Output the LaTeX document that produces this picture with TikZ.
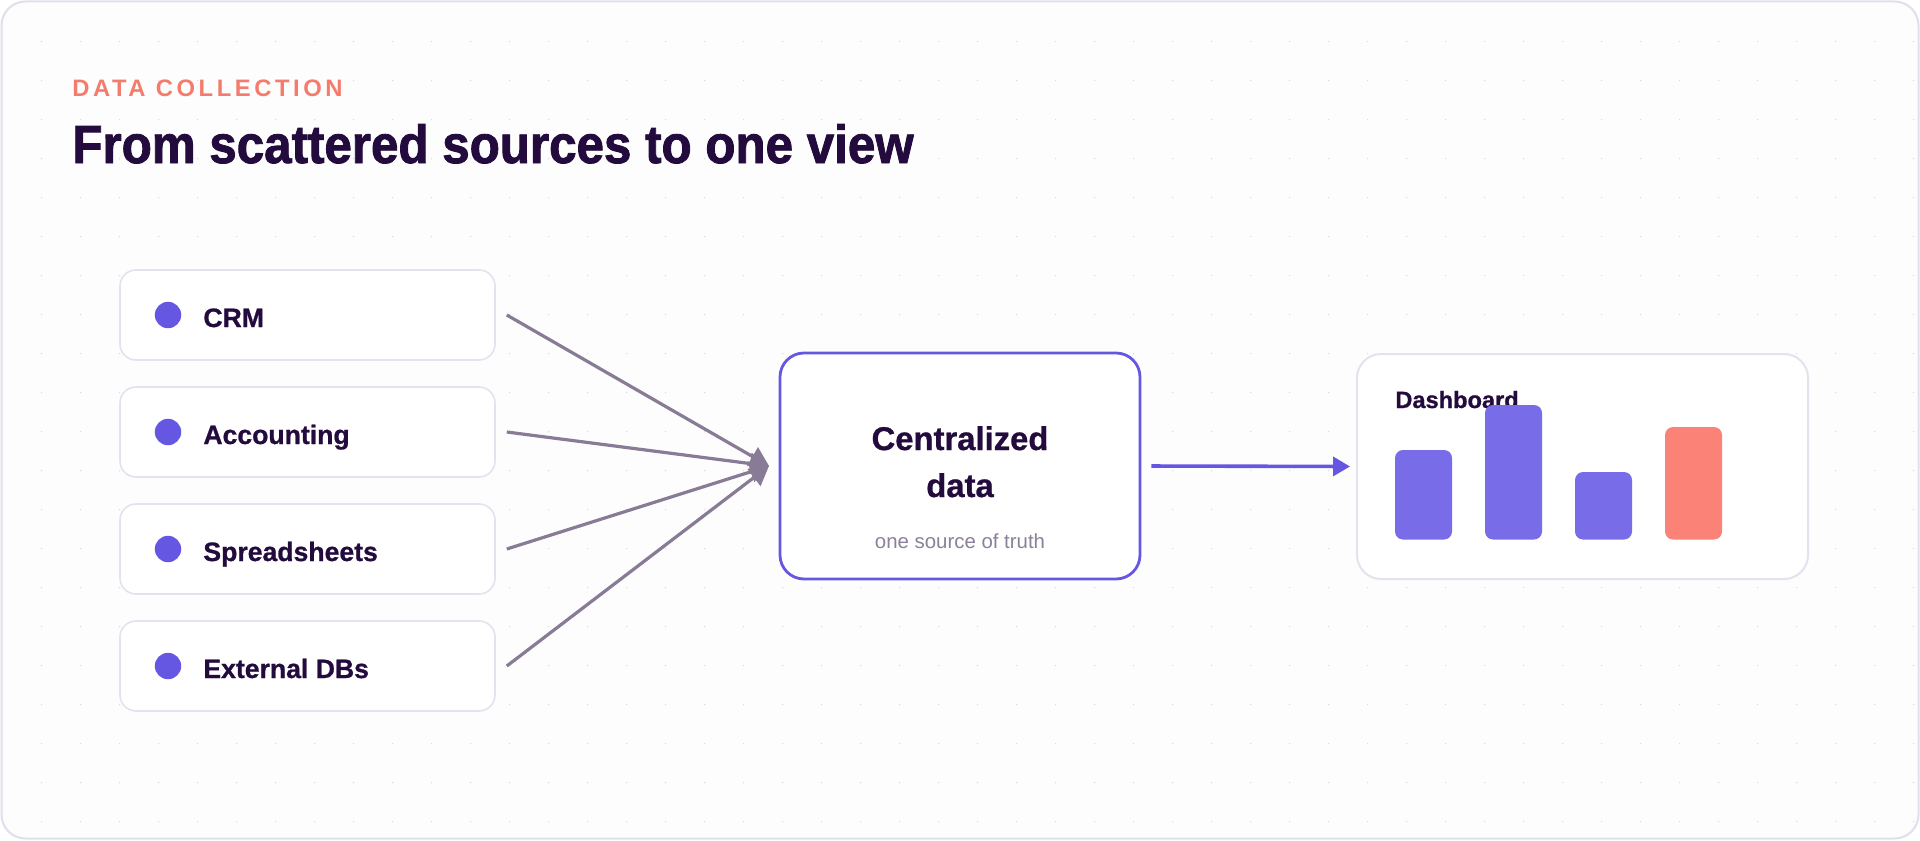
\documentclass[tikz,border=0pt]{standalone}
\usepackage{fontspec}
\setmainfont{Liberation Sans}
\newfontfamily\titlefont[FakeStretch=0.92, BoldFeatures={FakeBold=1.6}]{Liberation Sans}
\newfontfamily\kickerfont[LetterSpace=15]{Liberation Sans}
\newfontfamily\labelfont[BoldFeatures={FakeBold=0.8}]{Liberation Sans}
\usetikzlibrary{arrows.meta}
\definecolor{bgcol}{HTML}{FDFDFE}
\definecolor{framecol}{HTML}{E2DFEC}
\definecolor{dotcol}{HTML}{DCDCE4}
\definecolor{boxborder}{HTML}{E4E2EC}
\definecolor{ink}{HTML}{230B3D}
\definecolor{indigo}{HTML}{6657E2}
\definecolor{barblue}{HTML}{786CE8}
\definecolor{coral}{HTML}{FB8276}
\definecolor{kicker}{HTML}{F47C6C}
\definecolor{conn}{HTML}{877B96}
\definecolor{subtle}{HTML}{8B8198}
\tikzset{
  srcbox/.style={draw=boxborder, fill=white, line width=0.8pt, rounded corners=8pt,
    minimum width=187.5pt, minimum height=45pt, inner sep=0pt},
  srclabel/.style={anchor=base west, inner sep=0pt, text=ink,
    font=\labelfont\fontsize{13.3pt}{16pt}\selectfont\bfseries},
  srcdot/.style={fill=indigo},
  connline/.style={draw=conn, line width=1.6pt,
    -{Triangle[length=9.5pt,width=10.5pt]}},
  hubbox/.style={draw=indigo, fill=white, line width=1.4pt, rounded corners=12pt,
    minimum width=180pt, minimum height=113pt, inner sep=0pt},
  dashbox/.style={draw=boxborder, fill=white, line width=1pt, rounded corners=12pt,
    minimum width=225.5pt, minimum height=112.5pt, inner sep=0pt},
  flowline/.style={draw=indigo, line width=1.8pt, shorten <=5pt, shorten >=3pt,
    -{Triangle[length=8.5pt,width=9.5pt]}},
  txt/.style={inner sep=0pt, anchor=base},
}
\begin{document}
\begin{tikzpicture}[x=0.5pt,y=-0.5pt]
\useasboundingbox (0,0) rectangle (1920,840);
\fill[white] (0,0) rectangle (1920,840);
\draw[framecol, line width=1pt, fill=bgcol, rounded corners=12pt] (1.5,1.5) rectangle (1918.5,838.5);
\foreach \i in {0,...,48}{
  \foreach \j in {0,...,20}{
    \fill[dotcol] (41.6+39*\i, 41.6+39*\j) circle (0.38pt);
  }
}
% header
\node[anchor=base west, inner sep=0pt, text=kicker,
  font=\kickerfont\fontsize{11.9pt}{14pt}\selectfont\bfseries] (kick) at (72,97) {DATA COLLECTION};
\node[anchor=base west, inner sep=0pt, text=ink,
  font=\titlefont\fontsize{26.8pt}{30pt}\selectfont\bfseries] (title) at (72,163) {From scattered sources to one view};
% sources
\node[srcbox] (crm) at (307.5,315) {};
\node[srcbox] (acc) at (307.5,432) {};
\node[srcbox] (spr) at (307.5,549) {};
\node[srcbox] (ext) at (307.5,666) {};
\fill[srcdot] (168,315) circle (6.6pt);
\fill[srcdot] (168,432) circle (6.6pt);
\fill[srcdot] (168,549) circle (6.6pt);
\fill[srcdot] (168,666) circle (6.6pt);
\node[srclabel] (crmt) at (203,327) {CRM};
\node[srclabel] (acct) at (203,444) {Accounting};
\node[srclabel] (sprt) at (203,561) {Spreadsheets};
\node[srclabel] (extt) at (203,678) {External DBs};
% hub
\node[hubbox] (hub) at (960,466) {};
\coordinate (tip) at (769,466);
\node[txt, text=ink, font=\labelfont\fontsize{16.4pt}{20pt}\selectfont\bfseries] (h1) at (960,450) {Centralized};
\node[txt, text=ink, font=\labelfont\fontsize{16.4pt}{20pt}\selectfont\bfseries] (h2) at (960,497) {data};
\node[txt, text=subtle, font=\fontsize{10.2pt}{12pt}\selectfont] (h3) at (960,548) {one source of truth};
% connectors
\draw[connline] ([xshift=5.5pt]crm.east) -- (tip);
\draw[connline] ([xshift=5.5pt]acc.east) -- (tip);
\draw[connline] ([xshift=5.5pt]spr.east) -- (tip);
\draw[connline] ([xshift=5.5pt]ext.east) -- (tip);
% dashboard
\node[dashbox] (dash) at (1582.5,466.5) {};
\draw[flowline] (hub.east) -- (dash.west);
\node[anchor=base west, inner sep=0pt, text=ink,
  font=\labelfont\fontsize{11.8pt}{14pt}\selectfont\bfseries] (dtitle) at (1395,408) {Dashboard};
\fill[barblue, rounded corners=4pt] (1395,450) rectangle (1452,539.5);
\fill[barblue, rounded corners=4pt] (1485,405) rectangle (1542,539.5);
\fill[barblue, rounded corners=4pt] (1575,472) rectangle (1632,539.5);
\fill[coral, rounded corners=4pt] (1665,427) rectangle (1722,539.5);
\end{tikzpicture}
\end{document}
